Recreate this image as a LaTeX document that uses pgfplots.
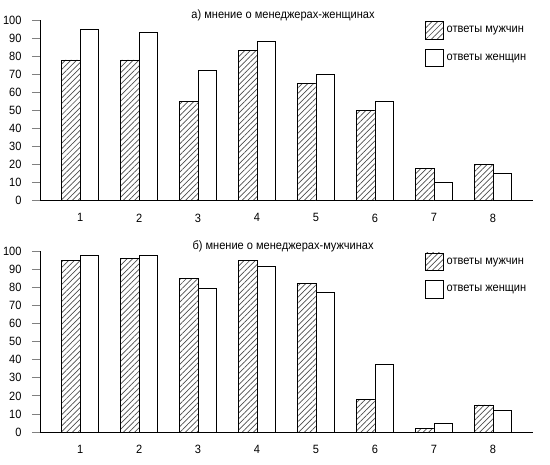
\documentclass[border=0pt]{standalone}
\usepackage{fontspec}
\setmainfont[FakeStretch=0.92]{Liberation Sans}
\usepackage{pgfplots}
\pgfplotsset{compat=1.18}
\usetikzlibrary{patterns.meta}

\pgfplotsset{
  opros/.style={
    scale only axis,
    width=493bp, height=180.5bp,
    anchor=south west,
    ybar=0pt, bar width=18.3bp,
    xmin=0.32, xmax=8.68,
    ymin=0, ymax=100,
    axis x line=bottom, axis y line=left,
    axis line style={-, line width=0.8bp},
    xtick={1,...,8},
    ytick={0,10,...,100},
    x tick style={draw=none},
    y tick style={line width=0.8bp},
    tick align=outside,
    major tick length=8bp,
    xticklabel style={yshift=-1.5bp},
    yticklabel style={xshift=-7bp},
    /pgf/number format/assume math mode=true,
    font=\fontsize{12bp}{14bp}\selectfont,
    title style={at={(rel axis cs:0.493,1)}, anchor=base, yshift=-4bp, inner sep=0pt},
    legend style={at={(rel axis cs:0.781,0.995)}, anchor=north west, draw=none, fill=none,
      inner sep=0pt, row sep=9bp, column sep=1bp, legend cell align=left,
      nodes={inner sep=2bp}},
  },
  muzh/.style={draw=black, line width=0.8bp,
    pattern={Lines[angle=45, distance=4bp, line width=0.7bp]}, pattern color=black!70,
    legend image code/.code={\draw[##1] (0bp,-8.8bp) rectangle (17.7bp,8.8bp);}},
  zhen/.style={draw=black, fill=white, line width=0.8bp,
    legend image code/.code={\draw[##1] (0bp,-8.8bp) rectangle (17.7bp,8.8bp);}},
}

\begin{document}
\begin{tikzpicture}
\path[use as bounding box] (0,0) rectangle (550bp,465bp);

% а) мнение о менеджерах-женщинах
\begin{axis}[opros, at={(40bp,264.3bp)}, title={а) мнение о менеджерах-женщинах}]
  \addplot[muzh] coordinates {(1,78) (2,78) (3,55) (4,83) (5,65) (6,50) (7,18) (8,20)};
  \addplot[zhen] coordinates {(1,95) (2,93) (3,72) (4,88) (5,70) (6,55) (7,10) (8,15)};
  \legend{ответы мужчин, ответы женщин}
\end{axis}

% б) мнение о менеджерах-мужчинах
\begin{axis}[opros, at={(40bp,33bp)}, title={б) мнение о менеджерах-мужчинах}]
  \addplot[muzh] coordinates {(1,95) (2,96) (3,85) (4,95) (5,82.5) (6,18) (7,2) (8,15)};
  \addplot[zhen] coordinates {(1,98) (2,98) (3,79.5) (4,92) (5,77.5) (6,37.5) (7,5) (8,12)};
  \legend{ответы мужчин, ответы женщин}
\end{axis}
\end{tikzpicture}
\end{document}
